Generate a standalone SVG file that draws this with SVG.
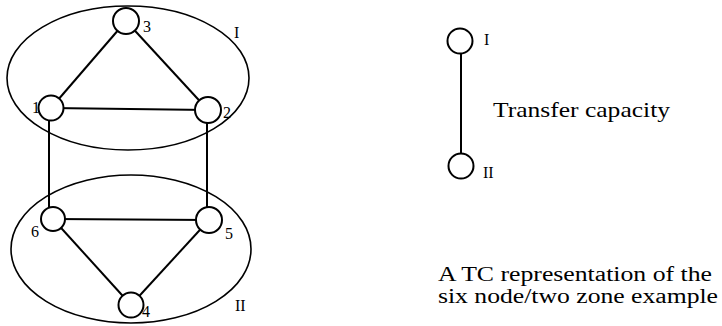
<svg xmlns="http://www.w3.org/2000/svg" width="722" height="326" viewBox="0 0 722 326">
<style>
.zone{fill:none;stroke:#000;stroke-width:1.6}
.node{fill:#fff;stroke:#000;stroke-width:2}
.edge{stroke:#000;stroke-width:2;fill:none}
.lbl{font-family:"Liberation Serif","Times New Roman",serif;font-size:16px;fill:#000}
.txt{font-family:"Liberation Serif","Times New Roman",serif;font-size:21px;fill:#000}
.cap{font-family:"Liberation Serif","Times New Roman",serif;font-size:20px;fill:#000}
</style>
<rect width="722" height="326" fill="#fff"/>
<g id="zone-I"><ellipse class="zone" cx="128" cy="78" rx="121" ry="72"/><text class="lbl" x="234" y="38">I</text></g>
<g id="zone-II"><ellipse class="zone" cx="131" cy="249" rx="120" ry="74"/><text class="lbl" x="235" y="311">II</text></g>
<g id="connectors">
<line class="edge" x1="126" y1="21" x2="51" y2="108"/>
<line class="edge" x1="126" y1="21" x2="208" y2="110"/>
<line class="edge" x1="51" y1="108" x2="208" y2="110"/>
<line class="edge" x1="49" y1="108" x2="49" y2="220"/>
<line class="edge" x1="207" y1="110" x2="207" y2="220"/>
<line class="edge" x1="53" y1="219" x2="209" y2="220"/>
<line class="edge" x1="53" y1="219" x2="131" y2="305"/>
<line class="edge" x1="209" y1="220" x2="131" y2="305"/>
<line class="edge" x1="461" y1="41" x2="461" y2="166"/>
</g>
<g id="node-3"><circle class="node" cx="126" cy="21" r="13"/><text class="lbl" x="143" y="32">3</text></g>
<g id="node-1"><circle class="node" cx="51" cy="108" r="12.5"/><text class="lbl" x="32" y="113">1</text></g>
<g id="node-2"><circle class="node" cx="208" cy="110" r="13"/><text class="lbl" x="223" y="118">2</text></g>
<g id="node-6"><circle class="node" cx="53" cy="219" r="12"/><text class="lbl" x="31" y="237">6</text></g>
<g id="node-5"><circle class="node" cx="209" cy="220" r="13"/><text class="lbl" x="225" y="239">5</text></g>
<g id="node-4"><circle class="node" cx="131" cy="305" r="12.5"/><text class="lbl" x="142" y="317">4</text></g>
<g id="legend-I"><circle class="node" cx="460" cy="41" r="12.5"/><text class="lbl" x="484" y="45">I</text></g>
<g id="legend-II"><circle class="node" cx="461" cy="166" r="12.5"/><text class="lbl" x="483" y="178">II</text></g>
<text class="txt" x="493" y="117" textLength="177" lengthAdjust="spacingAndGlyphs">Transfer capacity</text>
<text class="cap" x="438" y="281" textLength="274" lengthAdjust="spacingAndGlyphs">A TC representation of the</text>
<text class="cap" x="438" y="303" textLength="280" lengthAdjust="spacingAndGlyphs">six node/two zone example</text>
</svg>
